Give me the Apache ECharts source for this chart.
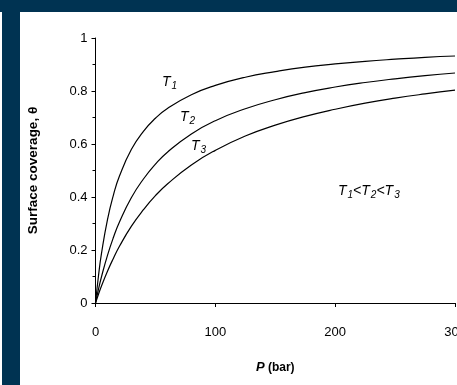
<!DOCTYPE html>
<html><head><meta charset="utf-8">
<script src="https://cdn.jsdelivr.net/npm/echarts@6/dist/echarts.min.js"></script>
<style>html,body{margin:0;padding:0;background:#fff}#c{width:457px;height:385px}</style>
</head><body><div id="c"></div>
<script>
const pressure = [0, 2.5, 5, 10, 15, 20, 30, 40, 50, 60, 80, 100, 125, 150, 175, 200, 225, 250, 275, 300];
const thetaT1 = [0, 0.103, 0.187, 0.315, 0.408, 0.479, 0.580, 0.648, 0.697, 0.734, 0.786, 0.821, 0.852, 0.873, 0.890, 0.902, 0.912, 0.920, 0.927, 0.932];
const thetaT2 = [0, 0.052, 0.099, 0.180, 0.248, 0.306, 0.398, 0.468, 0.524, 0.569, 0.638, 0.688, 0.733, 0.767, 0.794, 0.815, 0.832, 0.846, 0.858, 0.868];
const thetaT3 = [0, 0.033, 0.064, 0.120, 0.169, 0.214, 0.290, 0.352, 0.405, 0.449, 0.521, 0.576, 0.630, 0.671, 0.704, 0.731, 0.754, 0.773, 0.789, 0.803];
const seriesNames = ['T1', 'T2', 'T3'];
const xTicks = [0, 100, 200, 300];
const yTicks = [0, 0.2, 0.4, 0.6, 0.8, 1];

const navy = '#003352';
const font = '"Liberation Sans", Arial, sans-serif';
function pairs(ys){ return pressure.map((p,i)=>[p, ys[i]]); }
const lineStyle = {color:'#000', width:1.2};
const tRich = {t:{fontStyle:'italic', fontSize:14, fontFamily:font, fill:'#000'}, s:{fontStyle:'italic', fontSize:10, fontFamily:font, fill:'#000', padding:[9,0,0,1]}};

const chart = echarts.init(document.getElementById('c'), null, {renderer:'canvas'});
chart.setOption({
  animation:false,
  backgroundColor:'#fff',
  grid:{left:95.5, right:2, top:38, bottom:82, outerBoundsMode:'none', containLabel:false},
  xAxis:{type:'value', min:xTicks[0], max:xTicks[xTicks.length-1], interval:100,
    axisLine:{lineStyle:{color:'#000', width:1}},
    axisTick:{inside:false, length:4, lineStyle:{color:'#000'}},
    axisLabel:{color:'#000', fontSize:13, fontFamily:font, margin:23, showMaxLabel:true, hideOverlap:false},
    splitLine:{show:false},
    name:'{i|P} {b|(bar)}', nameLocation:'middle', nameGap:58,
    nameTextStyle:{rich:{i:{fontWeight:'bold', fontStyle:'italic', fontSize:13, fontFamily:font, color:'#000'}, b:{fontWeight:'bold', fontSize:12, fontFamily:font, color:'#000'}}}
  },
  yAxis:{type:'value', min:yTicks[0], max:yTicks[yTicks.length-1], interval:0.2,
    axisLine:{show:true, lineStyle:{color:'#000', width:1}},
    axisTick:{show:true, inside:false, length:4, lineStyle:{color:'#000'}},
    minorTick:{show:true, splitNumber:2, length:3, lineStyle:{color:'#000'}},
    axisLabel:{color:'#000', fontSize:13, fontFamily:font, margin:8, formatter:v=>String(+v.toFixed(1))},
    splitLine:{show:false},
    name:'Surface coverage, θ', nameLocation:'middle', nameGap:55, nameRotate:90,
    nameTextStyle:{fontWeight:'bold', fontSize:13.5, fontFamily:font, color:'#000'}
  },
  series:[
    {name:seriesNames[0], type:'line', data:pairs(thetaT1), showSymbol:false, smooth:true, lineStyle},
    {name:seriesNames[1], type:'line', data:pairs(thetaT2), showSymbol:false, smooth:true, lineStyle},
    {name:seriesNames[2], type:'line', data:pairs(thetaT3), showSymbol:false, smooth:true, lineStyle}
  ],
  graphic:[
    {type:'rect', left:0, top:0, shape:{width:457, height:12}, style:{fill:navy}, z:100},
    {type:'rect', left:2, top:0, shape:{width:18, height:385}, style:{fill:navy}, z:100},
    {type:'text', left:162, top:75, style:{text:'{t|T}{s|1}', rich:tRich}},
    {type:'text', left:180, top:110, style:{text:'{t|T}{s|2}', rich:tRich}},
    {type:'text', left:191, top:139, style:{text:'{t|T}{s|3}', rich:tRich}},
    {type:'text', left:338, top:184, style:{text:'{t|T}{s|1}{t|<T}{s|2}{t|<T}{s|3}', rich:tRich}}
  ]
});
</script></body></html>
